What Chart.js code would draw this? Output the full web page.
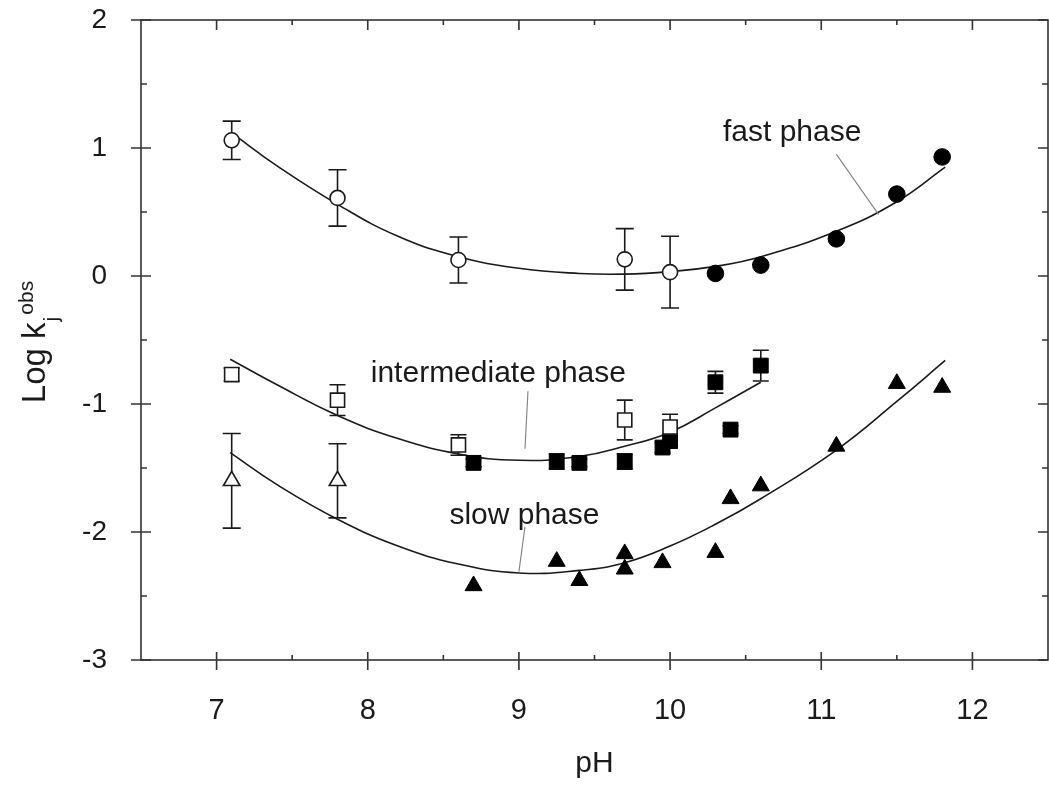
<!DOCTYPE html>
<html lang="en">
<head>
<meta charset="UTF-8">
<title>Log k obs vs pH</title>
<script src="https://cdn.jsdelivr.net/npm/chart.js"></script>
<style>
  body { margin: 0; background: #fff; overflow: hidden; }
  #wrap { width: 1049px; height: 788px; }
</style>
</head>
<body>
<div id="wrap"><canvas id="myChart"></canvas></div>
<script>
// axis ticks
const xTicks = [7, 8, 9, 10, 11, 12];
const yTicks = [-3, -2, -1, 0, 1, 2];
const xMinor = [7.5, 8.5, 9.5, 10.5, 11.5];
const yMinor = [-2.5, -1.5, -0.5, 0.5, 1.5];

// fast phase
const fastOpenPH = [7.1, 7.8, 8.6, 9.7, 10.0];
const fastOpenLogK = [1.06, 0.61, 0.125, 0.13, 0.03];
const fastOpenErr = [0.15, 0.22, 0.18, 0.24, 0.28];
const fastFilledPH = [10.3, 10.6, 11.1, 11.5, 11.8];
const fastFilledLogK = [0.02, 0.085, 0.29, 0.64, 0.93];
const fastFitPH = [7.12, 7.4, 7.8, 8.2, 8.6, 9.0, 9.4, 9.7, 10.0, 10.3, 10.6, 11.1, 11.5, 11.82];
const fastFitLogK = [1.10, 0.86, 0.56, 0.31, 0.15, 0.06, 0.02, 0.015, 0.035, 0.075, 0.15, 0.35, 0.58, 0.85];

// intermediate phase
const intOpenPH = [7.1, 7.8, 8.6, 9.7, 10.0];
const intOpenLogK = [-0.77, -0.97, -1.32, -1.125, -1.18];
const intOpenErr = [0.05, 0.12, 0.08, 0.155, 0.10];
const intFilledPH = [8.7, 9.25, 9.4, 9.7, 9.95, 10.0, 10.3, 10.4, 10.6];
const intFilledLogK = [-1.46, -1.45, -1.46, -1.45, -1.34, -1.29, -0.83, -1.20, -0.70];
const intFilledErr = [0.03, 0.06, 0.03, 0.06, 0.04, 0.04, 0.085, 0.03, 0.12];
const intFitPH = [7.09, 7.4, 7.8, 8.2, 8.6, 9.0, 9.4, 9.7, 10.0, 10.3, 10.6];
const intFitLogK = [-0.65, -0.85, -1.09, -1.27, -1.39, -1.44, -1.41, -1.33, -1.22, -1.03, -0.83];

// slow phase
const slowOpenPH = [7.1, 7.8];
const slowOpenLogK = [-1.60, -1.60];
const slowOpenErr = [0.37, 0.29];
const slowFilledPH = [8.7, 9.25, 9.4, 9.7, 9.7, 9.95, 10.3, 10.4, 10.6, 11.1, 11.5, 11.8];
const slowFilledLogK = [-2.42, -2.23, -2.38, -2.17, -2.29, -2.24, -2.16, -1.74, -1.64, -1.33, -0.84, -0.87];
const slowFitPH = [7.09, 7.4, 7.8, 8.2, 8.6, 9.0, 9.4, 9.7, 10.0, 10.3, 10.6, 11.1, 11.5, 11.82];
const slowFitLogK = [-1.38, -1.63, -1.90, -2.11, -2.25, -2.32, -2.30, -2.24, -2.11, -1.94, -1.74, -1.36, -0.98, -0.66];

// phase labels and their leader lines
const phaseLabels = ['fast phase', 'intermediate phase', 'slow phase'];
const labelPH = [10.35, 8.02, 8.54];
const labelLogK = [1.057, -0.826, -1.94];
const leaderPH = [[11.10, 11.38], [9.06, 9.04], [9.04, 9.00]];
const leaderLogK = [[0.95, 0.48], [-0.90, -1.35], [-1.96, -2.31]];

const ink = '#1a1a1a';
const fontFam = '"Liberation Sans", Arial, sans-serif';

function pts(xs, ys) {
    return xs.map((x, i) => ({ x: x, y: ys[i] }));
}

function fitLine(xs, ys) {
    return {
        data: pts(xs, ys), showLine: true, pointRadius: 0,
        borderColor: ink, borderWidth: 1.6, tension: 0.45, order: 3
    };
}

function marks(xs, ys, style, r, filled) {
    return {
        data: pts(xs, ys), showLine: false, pointStyle: style, pointRadius: r,
        backgroundColor: filled ? '#000' : '#fff', borderColor: filled ? '#000' : ink,
        borderWidth: filled ? 1 : 1.6, order: 1
    };
}

let leaders = leaderPH.map((xs, i) => ({
    data: pts(xs, leaderLogK[i]), showLine: true, pointRadius: 0,
    borderColor: '#808080', borderWidth: 1.1, order: 2
}));

// error bars
const errGroups = [
    [fastOpenPH, fastOpenLogK, fastOpenErr, 9],
    [intOpenPH, intOpenLogK, intOpenErr, 8],
    [intFilledPH, intFilledLogK, intFilledErr, 8],
    [slowOpenPH, slowOpenLogK, slowOpenErr, 9]
];

function noPad(s) {
    s.paddingTop = 0; s.paddingBottom = 0; s.paddingLeft = 0; s.paddingRight = 0;
}

const decor = {
    id: 'decor',
    beforeDatasetsDraw(chart) {
        let ctx = chart.ctx, sx = chart.scales.x, sy = chart.scales.y;
        ctx.save();
        ctx.strokeStyle = ink;
        ctx.lineWidth = 1.6;
        errGroups.forEach(g => {
            g[0].forEach((x, i) => {
                let px = sx.getPixelForValue(x);
                let top = sy.getPixelForValue(g[1][i] + g[2][i]);
                let bot = sy.getPixelForValue(g[1][i] - g[2][i]);
                ctx.beginPath();
                ctx.moveTo(px, top); ctx.lineTo(px, bot);
                ctx.moveTo(px - g[3], top); ctx.lineTo(px + g[3], top);
                ctx.moveTo(px - g[3], bot); ctx.lineTo(px + g[3], bot);
                ctx.stroke();
            });
        });
        ctx.restore();
    },
    afterDraw(chart) {
        let ctx = chart.ctx, sx = chart.scales.x, sy = chart.scales.y;
        let a = chart.chartArea;
        ctx.save();
        // frame + ticks on all four sides
        ctx.strokeStyle = '#333';
        ctx.lineWidth = 1.6;
        ctx.strokeRect(a.left, a.top, a.right - a.left, a.bottom - a.top);
        ctx.beginPath();
        xTicks.forEach(v => {
            let p = sx.getPixelForValue(v);
            ctx.moveTo(p, a.bottom - 8); ctx.lineTo(p, a.bottom + 10);
            ctx.moveTo(p, a.top); ctx.lineTo(p, a.top + 10);
        });
        xMinor.forEach(v => {
            let p = sx.getPixelForValue(v);
            ctx.moveTo(p, a.bottom); ctx.lineTo(p, a.bottom - 5);
            ctx.moveTo(p, a.top); ctx.lineTo(p, a.top + 5);
        });
        yTicks.forEach(v => {
            let p = sy.getPixelForValue(v);
            ctx.moveTo(a.left - 10, p); ctx.lineTo(a.left + 10, p);
            ctx.moveTo(a.right, p); ctx.lineTo(a.right - 10, p);
        });
        yMinor.forEach(v => {
            let p = sy.getPixelForValue(v);
            ctx.moveTo(a.left, p); ctx.lineTo(a.left + 6, p);
            ctx.moveTo(a.right, p); ctx.lineTo(a.right - 6, p);
        });
        ctx.stroke();

        // phase labels
        ctx.fillStyle = ink;
        ctx.font = '30px ' + fontFam;
        ctx.textAlign = 'left';
        ctx.textBaseline = 'alphabetic';
        phaseLabels.forEach((t, i) => {
            ctx.fillText(t, sx.getPixelForValue(labelPH[i]), sy.getPixelForValue(labelLogK[i]));
        });

        // y axis title: Log k_j^obs
        ctx.translate(45, (a.top + a.bottom) / 2);
        ctx.rotate(-Math.PI / 2);
        ctx.font = '33px ' + fontFam;
        let wMain = ctx.measureText('Log k').width;
        ctx.font = '21px ' + fontFam;
        let wSub = ctx.measureText('j').width;
        let wSup = ctx.measureText('obs').width;
        let start = -(wMain + wSub + wSup + 3) / 2 - 2;
        ctx.font = '33px ' + fontFam;
        ctx.fillText('Log k', start, 0);
        ctx.font = '21px ' + fontFam;
        ctx.fillText('j', start + wMain + 1, 13);
        ctx.fillText('obs', start + wMain + wSub + 3, -12);
        ctx.restore();
    }
};

let ctx = document.getElementById('myChart');
let configs = {
    type: 'scatter',
    data: {
        datasets: [
            fitLine(fastFitPH, fastFitLogK),
            fitLine(intFitPH, intFitLogK),
            fitLine(slowFitPH, slowFitLogK),
            leaders[0], leaders[1], leaders[2],
            marks(fastOpenPH, fastOpenLogK, 'circle', 7.5, false),
            marks(fastFilledPH, fastFilledLogK, 'circle', 8.3, true),
            marks(intOpenPH, intOpenLogK, 'rect', 10, false),
            marks(intFilledPH, intFilledLogK, 'rect', 10.5, true),
            marks(slowOpenPH, slowOpenLogK, 'triangle', 9.5, false),
            marks(slowFilledPH, slowFilledLogK, 'triangle', 9.8, true)
        ]
    },
    options: {
        responsive: true,
        maintainAspectRatio: false,
        animation: false,
        events: [],
        layout: { autoPadding: false, padding: { top: 20, right: 1, left: 0, bottom: 0 } },
        plugins: { legend: { display: false }, tooltip: { enabled: false } },
        scales: {
            x: {
                type: 'linear', min: 6.5, max: 12.5,
                grid: { display: false },
                border: { display: false },
                afterBuildTicks: s => { s.ticks = xTicks.map(v => ({ value: v })); },
                afterFit: s => { s.height = 128; noPad(s); },
                ticks: { color: ink, padding: 26, maxRotation: 0, font: { family: fontFam, size: 29 } },
                title: { display: true, text: 'pH', color: ink, padding: { top: 0, bottom: 6 }, font: { family: fontFam, size: 30 } }
            },
            y: {
                type: 'linear', min: -3, max: 2,
                grid: { display: false },
                border: { display: false },
                afterBuildTicks: s => { s.ticks = yTicks.map(v => ({ value: v })); },
                afterFit: s => { s.width = 141; noPad(s); },
                ticks: { color: ink, padding: 26, font: { family: fontFam, size: 28 } }
            }
        }
    },
    plugins: [decor]
};
let myChart = new Chart(ctx, configs);
</script>
</body>
</html>
